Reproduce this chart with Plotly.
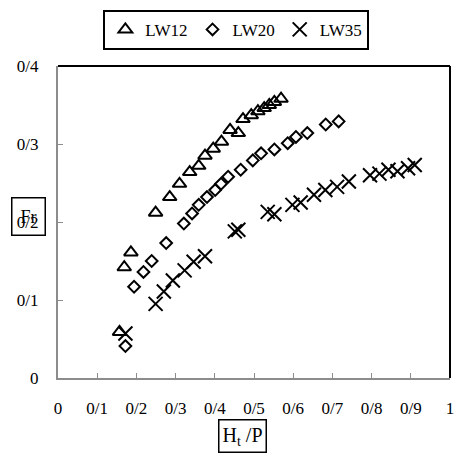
import plotly.graph_objects as go

# Series: relative head H_t/P versus Fr
lw12_x = [0.157, 0.169, 0.186, 0.249, 0.285, 0.310, 0.336, 0.359, 0.375, 0.396,
          0.417, 0.439, 0.460, 0.472, 0.493, 0.510, 0.526, 0.539, 0.552, 0.569]
lw12_y = [0.059, 0.142, 0.161, 0.212, 0.232, 0.249, 0.264, 0.272, 0.285, 0.294,
          0.303, 0.318, 0.314, 0.332, 0.337, 0.342, 0.346, 0.350, 0.354, 0.358]

lw20_x = [0.172, 0.194, 0.218, 0.239, 0.276, 0.321, 0.342, 0.359, 0.380, 0.401,
          0.416, 0.434, 0.466, 0.497, 0.518, 0.552, 0.586, 0.607, 0.636, 0.683, 0.716]
lw20_y = [0.041, 0.117, 0.136, 0.150, 0.173, 0.198, 0.211, 0.222, 0.232, 0.241,
          0.249, 0.258, 0.267, 0.279, 0.288, 0.293, 0.301, 0.309, 0.314, 0.325, 0.329]

lw35_x = [0.172, 0.249, 0.270, 0.293, 0.323, 0.346, 0.375, 0.451, 0.460, 0.535,
          0.552, 0.598, 0.619, 0.653, 0.682, 0.712, 0.742, 0.796, 0.820, 0.843,
          0.866, 0.893, 0.910]
lw35_y = [0.057, 0.095, 0.111, 0.125, 0.138, 0.149, 0.156, 0.188, 0.190, 0.213,
          0.210, 0.222, 0.225, 0.235, 0.241, 0.245, 0.252, 0.260, 0.262, 0.267,
          0.265, 0.269, 0.273]

x_ticks = [0, 0.1, 0.2, 0.3, 0.4, 0.5, 0.6, 0.7, 0.8, 0.9, 1.0]
x_labels = ["0", "0/1", "0/2", "0/3", "0/4", "0/5", "0/6", "0/7", "0/8", "0/9", "1"]
y_ticks = [0, 0.1, 0.2, 0.3, 0.4]
y_labels = ["0", "0/1", "0/2", "0/3", "0/4"]

FONT = "Times New Roman"
AXIS_GREY = "#8c8c8c"

fig = go.Figure()
fig.add_trace(go.Scatter(
    x=lw12_x, y=lw12_y, mode="markers", name="LW12",
    marker=dict(symbol="triangle-up-open", size=12, color="black",
                line=dict(width=2, color="black"))))
fig.add_trace(go.Scatter(
    x=lw20_x, y=lw20_y, mode="markers", name="LW20",
    marker=dict(symbol="diamond-open", size=9, color="black",
                line=dict(width=2, color="black"))))
fig.add_trace(go.Scatter(
    x=lw35_x, y=lw35_y, mode="markers", name="LW35",
    marker=dict(symbol="x-thin-open", size=14, color="black",
                line=dict(width=2, color="black"))))

axis_common = dict(
    showgrid=False, zeroline=False, showline=True, linecolor=AXIS_GREY,
    linewidth=2, ticks="inside", ticklen=5, tickwidth=1, tickcolor=AXIS_GREY,
    tickfont=dict(family=FONT, size=17, color="black"),
    ticklabeloverflow="allow",
)

fig.update_layout(
    width=456, height=456,
    margin=dict(l=58, r=2, t=66, b=78),
    paper_bgcolor="white", plot_bgcolor="white",
    font=dict(family=FONT, color="black"),
    xaxis=dict(range=[0, 1], tickvals=x_ticks, ticktext=x_labels,
               ticklabelstandoff=14, **axis_common),
    yaxis=dict(range=[0, 0.4], tickvals=y_ticks, ticktext=y_labels,
               ticklabelstandoff=14, **axis_common),
    showlegend=True,
    legend=dict(
        orientation="h", x=0.455, y=1.18, xanchor="center", yanchor="top",
        bordercolor="black", borderwidth=2, bgcolor="white",
        font=dict(family=FONT, size=17, color="black"),
        itemwidth=30, tracegroupgap=0,
    ),
    shapes=[
        dict(type="line", xref="paper", yref="paper", x0=0, x1=1, y0=1, y1=1,
             line=dict(color="black", width=2)),
        dict(type="line", xref="paper", yref="paper", x0=1, x1=1, y0=0, y1=1,
             line=dict(color="black", width=2)),
    ],
    annotations=[
        dict(text="H<sub>t</sub> /P", xref="paper", yref="paper",
             x=0.47, y=-0.185, xanchor="center", yanchor="middle",
             showarrow=False, font=dict(family=FONT, size=20, color="black"),
             bordercolor="black", borderwidth=1.5, borderpad=3),
        dict(text="Fr", xref="paper", yref="paper",
             x=-0.076, y=0.518, xanchor="center", yanchor="middle",
             showarrow=False, font=dict(family=FONT, size=18, color="black"),
             bordercolor="black", borderwidth=1.5, borderpad=8),
    ],
)

fig.write_html("out.html")
